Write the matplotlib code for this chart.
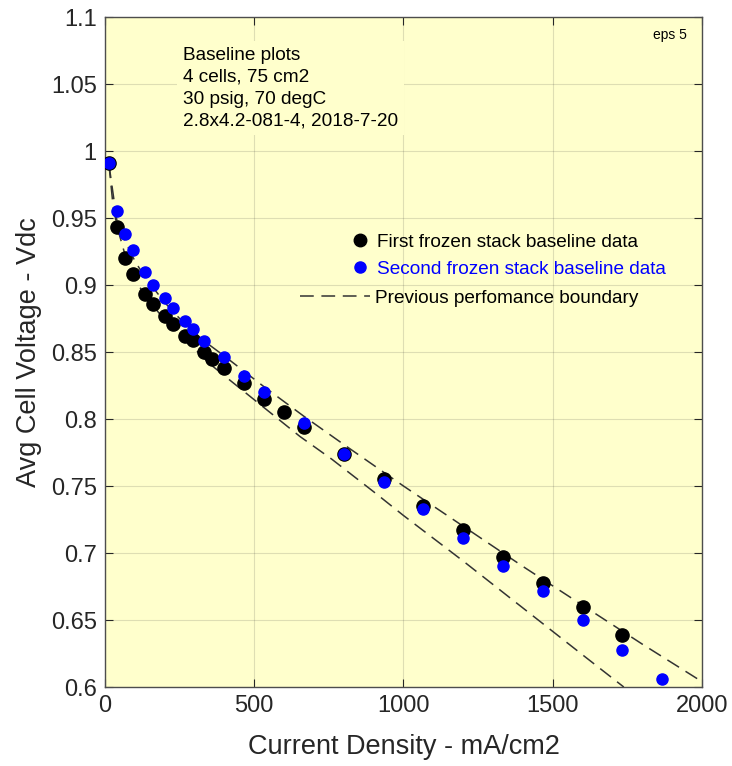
"""
Frozen stack baseline polarization plot
Avg cell voltage vs current density, with previous performance boundary
"""

import matplotlib
matplotlib.use('Agg')  # Non-interactive backend
import matplotlib.pyplot as plt
from matplotlib.lines import Line2D

plt.rcParams['font.family'] = ['Liberation Sans', 'DejaVu Sans']

# First frozen stack baseline (mA/cm2, Vdc)
first_j = [13.3, 40, 66.7, 93.3, 133.3, 160, 200, 226.7, 266.7, 293.3, 333.3, 360,
           400, 466.7, 533.3, 600, 666.7, 800, 933.3, 1066.7, 1200, 1333.3, 1466.7,
           1600, 1733.3]
first_v = [0.991, 0.943, 0.920, 0.908, 0.893, 0.886, 0.877, 0.871, 0.862, 0.859,
           0.850, 0.845, 0.838, 0.827, 0.815, 0.805, 0.794, 0.774, 0.755, 0.735,
           0.717, 0.697, 0.678, 0.660, 0.639]

# Second frozen stack baseline
second_j = [13.3, 40, 66.7, 93.3, 133.3, 160, 200, 226.7, 266.7, 293.3, 333.3, 400,
            466.7, 533.3, 666.7, 800, 933.3, 1066.7, 1200, 1333.3, 1466.7, 1600,
            1733.3, 1866.7]
second_v = [0.991, 0.955, 0.938, 0.926, 0.910, 0.900, 0.890, 0.883, 0.873, 0.867,
            0.858, 0.846, 0.832, 0.820, 0.797, 0.774, 0.753, 0.733, 0.711, 0.690,
            0.672, 0.650, 0.628, 0.606]

# Previous performance boundary (upper / lower)
upper_j = [13.3, 40, 66.7, 100, 133.3, 200, 266.7, 333.3, 400, 533.3, 666.7, 800,
           1000, 1200, 1400, 1600, 1800, 2000]
upper_v = [0.990, 0.948, 0.933, 0.918, 0.906, 0.887, 0.871, 0.858, 0.847, 0.824,
           0.802, 0.781, 0.750, 0.720, 0.690, 0.661, 0.632, 0.604]
lower_j = [13.3, 26.7, 40, 66.7, 100, 133.3, 200, 266.7, 333.3, 363, 424, 653,
           760, 910, 1000, 1200, 1400, 1600, 1738]
lower_v = [0.990, 0.960, 0.944, 0.923, 0.905, 0.892, 0.874, 0.860, 0.845, 0.839,
           0.828, 0.787, 0.770, 0.744, 0.728, 0.694, 0.659, 0.624, 0.600]

x_ticks = [0, 500, 1000, 1500, 2000]
y_ticks = [0.6, 0.65, 0.7, 0.75, 0.8, 0.85, 0.9, 0.95, 1.0, 1.05, 1.1]
y_tick_labels = ['0.6', '0.65', '0.7', '0.75', '0.8', '0.85', '0.9', '0.95',
                 '1', '1.05', '1.1']

notes = 'Baseline plots\n4 cells, 75 cm2\n30 psig, 70 degC\n2.8x4.2-081-4, 2018-7-20'

BG = '#ffffcc'
INK = '#262626'


def plot_baseline(output_path='out.png'):
    fig = plt.figure(figsize=(7.32, 7.66), dpi=100)
    ax = fig.add_axes([0.1434, 0.1031, 0.8156, 0.8747])
    ax.set_facecolor(BG)

    # 경계선
    ax.plot(upper_j, upper_v, color='#333333', lw=1.1, dashes=(9, 5), zorder=2)
    ax.plot(lower_j, lower_v, color='#333333', lw=1.1, dashes=(9, 5), zorder=2)

    # 데이터 점
    ax.plot(first_j, first_v, 'o', color='black', ms=9.5, mec='black', zorder=3)
    ax.plot(second_j, second_v, 'o', color='#0000ff', ms=8, mec='#0000ff', zorder=4)

    ax.set_xlim(0, 2000)
    ax.set_ylim(0.6, 1.1)
    ax.set_xticks(x_ticks)
    ax.set_xticklabels([str(t) for t in x_ticks])
    ax.set_yticks(y_ticks)
    ax.set_yticklabels(y_tick_labels)
    ax.tick_params(direction='in', length=6, width=0.8, colors=INK, labelsize=17,
                   top=True, right=True, pad=6)
    for s in ax.spines.values():
        s.set_color('#4d4d4d')
        s.set_linewidth(1.0)

    ax.grid(True, color=INK, alpha=0.15, lw=0.8)
    ax.set_axisbelow(True)

    ax.set_xlabel('Current Density - mA/cm2', fontsize=19.5, color=INK, labelpad=12)
    ax.set_ylabel('Avg Cell Voltage - Vdc', fontsize=19.5, color=INK, labelpad=6)

    # 메모
    ax.text(0.131, 0.955, notes, transform=ax.transAxes, ha='left', va='top',
            fontsize=13.7, color='black', linespacing=1.37, zorder=5,
            bbox=dict(boxstyle='square,pad=0.3', fc=BG, ec='none'))
    ax.text(0.975, 0.984, 'eps 5', transform=ax.transAxes, ha='right', va='top',
            fontsize=10, color='black', zorder=5)

    # 범례 (점)
    dot_handles = [
        Line2D([], [], ls='none', marker='o', color='black', ms=9),
        Line2D([], [], ls='none', marker='o', color='#0000ff', ms=8),
    ]
    leg1 = ax.legend(dot_handles,
                     ['First frozen stack baseline data',
                      'Second frozen stack baseline data'],
                     loc='upper left', bbox_to_anchor=(0.4146, 0.677),
                     frameon=False, fontsize=13.7, handlelength=0.8,
                     handletextpad=0.5, borderpad=0, borderaxespad=0,
                     labelspacing=0.5)
    leg1.get_texts()[1].set_color('#0000ff')
    ax.add_artist(leg1)

    # 범례 (경계선)
    line_handle = [Line2D([], [], color='#333333', lw=1.1, dashes=(9, 5))]
    ax.legend(line_handle, ['Previous perfomance boundary'],
              loc='upper left', bbox_to_anchor=(0.3266, 0.593),
              frameon=False, fontsize=13.7, handlelength=3.7,
              handletextpad=0.26, borderpad=0, borderaxespad=0)

    fig.savefig(output_path, dpi=100, facecolor='white')
    return fig


if __name__ == '__main__':
    plot_baseline()
